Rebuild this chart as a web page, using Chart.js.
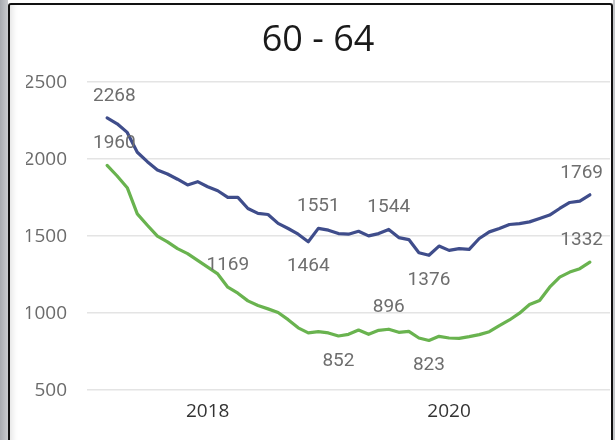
<!DOCTYPE html>
<html>
<head>
<meta charset="utf-8">
<script src="https://cdn.jsdelivr.net/npm/chart.js@4"></script>
<style>
  html, body { margin: 0; padding: 0; background: #fff; }
  body { width: 615px; height: 440px; position: relative; overflow: hidden; }
  .strip-left { position: absolute; left: 0; top: 0; width: 8px; height: 440px;
    background: linear-gradient(to right, #a7aaaf, #c9cbce); }
  .strip-right { position: absolute; right: 0; top: 0; width: 2px; height: 440px; background: #c4c6c9; }
  .frame { position: absolute; left: 8px; top: 3px; width: 601px; height: 450px;
    border: 2px solid #111; border-bottom: none; border-radius: 3px 3px 0 0;
    box-shadow: inset 6px 0 6px -4px rgba(0,0,0,0.12); }
  canvas { position: absolute; left: 0; top: 0; }
</style>
</head>
<body>
<div class="strip-left"></div>
<div class="strip-right"></div>
<div class="frame"></div>
<canvas id="chart" width="615" height="440"></canvas>
<script>
const months = [
  '2017-03','2017-04','2017-05','2017-06','2017-07','2017-08','2017-09','2017-10','2017-11','2017-12',
  '2018-01','2018-02','2018-03','2018-04','2018-05','2018-06','2018-07','2018-08','2018-09','2018-10','2018-11','2018-12',
  '2019-01','2019-02','2019-03','2019-04','2019-05','2019-06','2019-07','2019-08','2019-09','2019-10','2019-11','2019-12',
  '2020-01','2020-02','2020-03','2020-04','2020-05','2020-06','2020-07','2020-08','2020-09','2020-10','2020-11','2020-12',
  '2021-01','2021-02','2021-03',
];

const blueValues = [
  2268, 2230, 2174, 2045, 1984, 1930, 1904, 1870, 1833, 1854,
  1821, 1795, 1752, 1752, 1680, 1648, 1641, 1583, 1550, 1513,
  1464, 1551, 1539, 1517, 1513, 1532, 1502, 1517, 1544, 1491,
  1478, 1393, 1376, 1436, 1408, 1419, 1415, 1485, 1528, 1550,
  1576, 1582, 1593, 1615, 1637, 1680, 1719, 1728, 1769,
];

const greenValues = [
  1960, 1891, 1815, 1645, 1571, 1500, 1463, 1419, 1387, 1343,
  1299, 1255, 1169, 1130, 1080, 1050, 1028, 1005, 958, 905,
  872, 880, 872, 852, 863, 891, 863, 889, 896, 876,
  882, 839, 823, 850, 839, 837, 848, 861, 880, 919,
  956, 1000, 1056, 1082, 1169, 1234, 1267, 1289, 1332,
];

const yTicks = [500, 1000, 1500, 2000, 2500];
const xTickMonths = ['2018-01', '2020-01'];

// which points carry a value label, and on which side
const blueLabels = [[0, 'up'], [20, 'down'], [21, 'up'], [28, 'up'], [32, 'down'], [48, 'up']];
const greenLabels = [[0, 'up'], [12, 'up'], [23, 'down'], [28, 'up'], [32, 'down'], [48, 'up']];

const toPoints = vals => vals.map((v, i) => ({ x: i, y: v }));

const valueLabels = {
  id: 'valueLabels',
  afterDatasetsDraw(chart) {
    const { ctx, chartArea } = chart;
    ctx.save();
    ctx.font = '19px Roboto';
    ctx.fillStyle = '#6e6e6e';
    ctx.textAlign = 'center';
    ctx.textBaseline = 'middle';
    [blueLabels, greenLabels].forEach((list, ds) => {
      const meta = chart.getDatasetMeta(ds);
      const values = chart.data.datasets[ds].data;
      list.forEach(([i, side]) => {
        const pt = meta.data[i];
        const text = String(values[i].y);
        const w = ctx.measureText(text).width;
        let x = pt.x;
        x = Math.max(x, chartArea.left + 6 + w / 2);
        x = Math.min(x, chartArea.right - 7 - w / 2);
        const y = side === 'up' ? pt.y - 22 : pt.y + 25;
        ctx.fillText(text, x, y);
      });
    });
    ctx.restore();
  },
};

new Chart(document.getElementById('chart').getContext('2d'), {
  type: 'line',
  data: {
    datasets: [
      {
        label: 'blue',
        data: toPoints(blueValues),
        borderColor: '#3f4d8b',
        borderWidth: 3.2,
        pointRadius: 0,
        tension: 0,
        borderJoinStyle: 'round',
        borderCapStyle: 'round',
      },
      {
        label: 'green',
        data: toPoints(greenValues),
        borderColor: '#69b34f',
        borderWidth: 3.2,
        pointRadius: 0,
        tension: 0,
        borderJoinStyle: 'round',
        borderCapStyle: 'round',
      },
    ],
  },
  options: {
    responsive: false,
    animation: false,
    layout: { padding: { left: 26, right: 5, top: 0, bottom: 7 } },
    plugins: {
      legend: { display: false },
      tooltip: { enabled: false },
      title: {
        display: true,
        text: '60 - 64',
        color: '#1a1a1a',
        font: { family: 'Open Sans', size: 36, weight: '400', lineHeight: 1.2 },
        padding: { top: 19, bottom: 20 },
      },
    },
    scales: {
      x: {
        type: 'linear',
        min: -2,
        max: 50,
        afterBuildTicks: s => { s.ticks = xTickMonths.map(m => ({ value: months.indexOf(m) })); },
        ticks: {
          color: '#333',
          padding: 10,
          font: { family: 'Open Sans', size: 19 },
          callback: v => months[v].slice(0, 4),
        },
        grid: { display: false, drawTicks: false },
        border: { display: false },
      },
      y: {
        min: 500,
        max: 2500,
        afterBuildTicks: s => { s.ticks = yTicks.map(v => ({ value: v })); },
        afterFit: s => { s.width = 61; },
        ticks: {
          color: '#6b6b6b',
          padding: 20,
          font: { family: 'Open Sans', size: 19 },
          callback: v => String(v),
        },
        grid: { color: '#e4e4e4', lineWidth: 1.5, drawTicks: false },
        border: { display: false },
      },
    },
  },
  plugins: [valueLabels],
});
</script>
</body>
</html>
